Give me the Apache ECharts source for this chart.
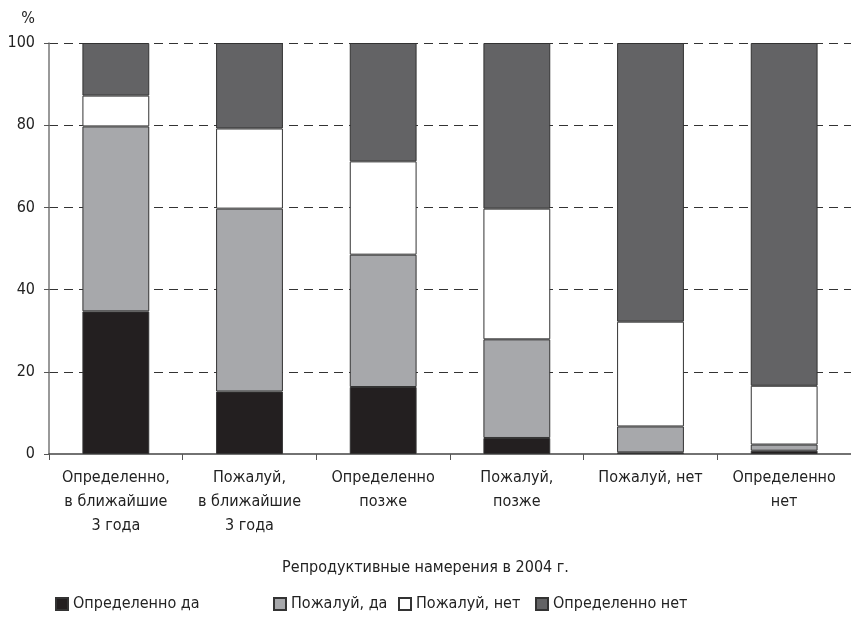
<!DOCTYPE html>
<html><head><meta charset="utf-8">
<script src="https://cdn.jsdelivr.net/npm/echarts@6/dist/echarts.min.js"></script>
<style>html,body{margin:0;padding:0;background:#fff}#c{width:851px;height:627px}</style>
</head><body><div id="c"></div>
<script>
const categories = ['Определенно,\nв ближайшие\n3 года', 'Пожалуй,\nв ближайшие\n3 года', 'Определенно\nпозже', 'Пожалуй,\nпозже', 'Пожалуй, нет', 'Определенно\nнет'];
const seriesNames = ['Определенно да', 'Пожалуй, да', 'Пожалуй, нет', 'Определенно нет'];
const defYes = [34.7, 15.2, 16.3, 3.9, 0.4, 0.8];
const probYes = [45.0, 44.5, 32.2, 24.0, 6.3, 1.5];
const probNo = [7.5, 19.5, 22.7, 31.8, 25.5, 14.3];
const defNo = [12.8, 20.8, 28.8, 40.3, 67.8, 83.4];
const yTicks = [0, 20, 40, 60, 80, 100];
const colors = ['#231f20', '#a7a8ab', '#ffffff', '#636365'];
const FONT = '"Liberation Sans Narrow", "DejaVu Sans Condensed", "Liberation Sans", sans-serif';

const chart = echarts.init(document.getElementById('c'), null, {renderer: 'canvas'});
const values = [defYes, probYes, probNo, defNo];
const legendLefts = [50, 268, 393, 530];
chart.setOption({
  animation: false,
  textStyle: {fontFamily: FONT},
  title: {
    text: 'Репродуктивные намерения в 2004 г.', left: 'center', top: 555,
    textStyle: {fontFamily: FONT, fontSize: 16, fontWeight: 'normal', color: '#222'}
  },
  grid: {left: 49, right: -4, top: 43, bottom: 173, containLabel: false},
  legend: seriesNames.map((n, i) => ({
    data: [n], left: legendLefts[i], top: 591, itemWidth: 12, itemHeight: 12, itemGap: 0,
    icon: 'rect', textStyle: {fontFamily: FONT, fontSize: 16, color: '#222'},
    selectedMode: false
  })),
  xAxis: {
    type: 'category', data: categories,
    axisLine: {lineStyle: {color: '#444', width: 1.5}},
    axisTick: {show: true, length: 6, lineStyle: {color: '#555'}},
    axisLabel: {fontFamily: FONT, fontSize: 16, color: '#222', lineHeight: 24, margin: 12, interval: 0}
  },
  yAxis: {
    type: 'value', min: 0, max: 100, interval: 20,
    name: '%', nameLocation: 'end', nameGap: 16,
    nameTextStyle: {fontFamily: FONT, fontSize: 16, color: '#222', align: 'right', padding: [0, 14, 0, 0]},
    axisLine: {show: true, lineStyle: {color: '#777', width: 1.5}},
    axisTick: {show: true, length: 5, lineStyle: {color: '#555'}},
    axisLabel: {fontFamily: FONT, fontSize: 16, color: '#222', margin: 14,
      formatter: v => yTicks.includes(v) ? String(v) : ''},
    splitLine: {show: true, showMinLine: false, lineStyle: {color: '#333', type: [9, 6], width: 1}}
  },
  series: seriesNames.map((n, i) => ({
    name: n, type: 'bar', stack: 'total', barWidth: '50%',
    data: values[i],
    itemStyle: {color: colors[i], borderColor: '#333', borderWidth: 1}
  }))
});
</script></body></html>
